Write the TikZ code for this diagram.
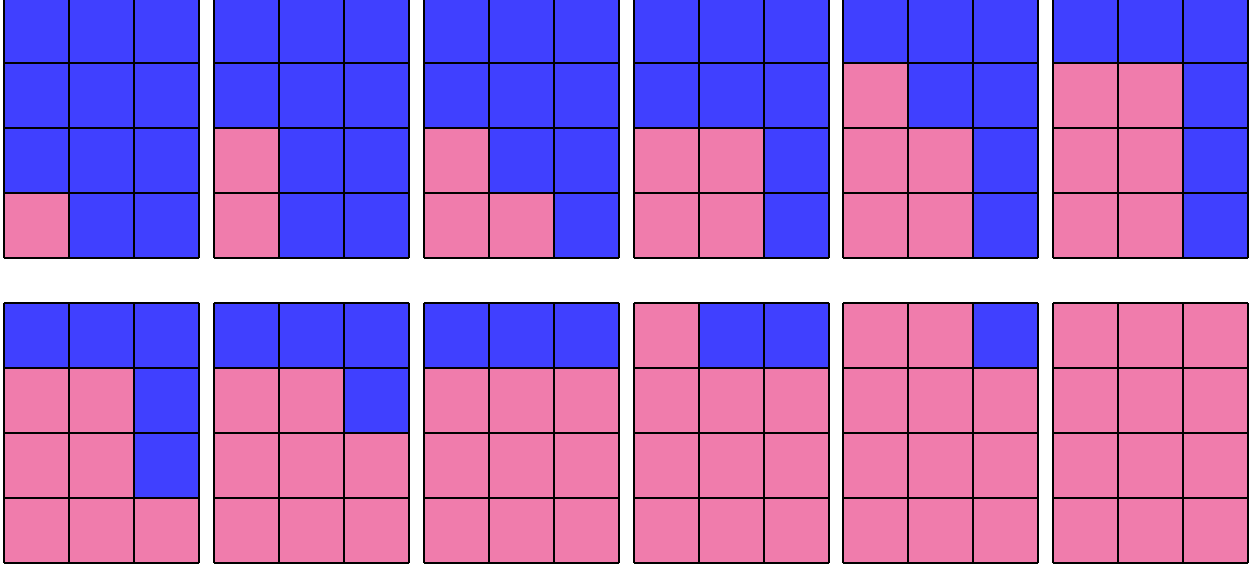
\documentclass[tikz,border=0pt]{standalone}
\usepackage{tikz}

\definecolor{cellblue}{HTML}{4040FF}
\definecolor{cellpink}{HTML}{F07CAC}

\tikzset{
    bluecell/.style={fill=cellblue},
    pinkcell/.style={fill=cellpink},
    gridline/.style={black, line width=1pt}
}

\begin{document}
\begin{tikzpicture}[x=0.5pt, y=0.5pt]

\useasboundingbox (0,0) rectangle (1255,567);

\foreach[count=\k] \ox/\oy in {4/309,214/309,424/309,634/309,843/309,1053/309,
                              4/4,214/4,424/4,634/4,843/4,1053/4} {
    \begin{scope}[shift={(\ox,\oy)}]
        \fill[bluecell] (0,0) rectangle (195,260);
        % pink cells, in the order they are added
        \foreach[count=\i] \c/\r in {0/0,0/1,1/0,1/1,0/2,1/2,2/0,2/1,2/2,0/3,1/3,2/3} {
            \ifnum\i>\k\relax\else
                \fill[pinkcell] (65*\c,65*\r) rectangle ++(65,65);
            \fi
        }
        \foreach \c in {0,65,130,195} {
            \draw[gridline] (\c,0) -- (\c,260);
        }
        \foreach \r in {0,65,130,195,260} {
            \draw[gridline] (0,\r) -- (195,\r);
        }
    \end{scope}
}

\end{tikzpicture}
\end{document}
